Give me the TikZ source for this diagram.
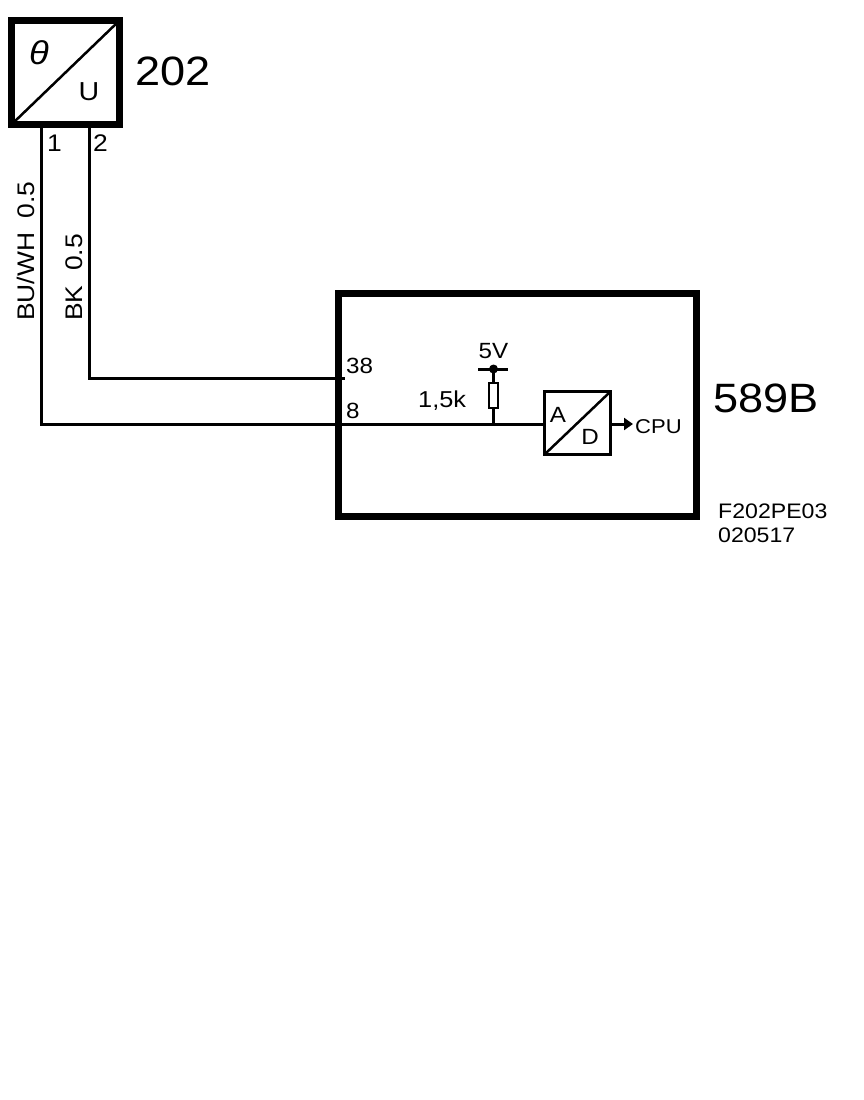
\documentclass[tikz,border=0pt]{standalone}
\usepackage{fontspec}
\setmainfont{Liberation Sans}[FakeStretch=1.1]
\usetikzlibrary{arrows.meta}
\begin{document}
\begin{tikzpicture}[x=1pt,y=-1pt,
  wire/.style={line width=3pt},
  thickbox/.style={draw,line width=7pt,minimum width=#1,inner sep=0pt,outer sep=0pt},
  lbl/.style={inner sep=0pt,font=\fontsize{#1}{#1}\selectfont},
]
\useasboundingbox (0,0) rectangle (864,1100);
% sensor 202
\node[thickbox=108pt,minimum height=104pt] (s202) at (65.5,72.5) {};
\draw[line width=2.5pt] (s202.south west) -- (s202.north east);
\node[lbl=33] (theta) at (39,53) {\itshape θ};
\node[lbl=26] (u) at (89,92) {U};
\node[lbl=41,anchor=base west] (n202) at (135,85) {202};
\node[lbl=24,anchor=base west] (pin1) at (47,151) {1};
\node[lbl=24,anchor=base west] (pin2) at (93,151) {2};
\node[lbl=24,anchor=base west,rotate=90] (c1) at (34,321) {BU/WH~ 0.5};
\node[lbl=24,anchor=base west,rotate=90] (c2) at (82,321) {BK~ 0.5};
% ECU 589B
\node[thickbox=358pt,minimum height=223pt] (ecu) at (517.5,405) {};
\node[lbl=41,anchor=base west] (n589) at (713,412) {589B};
\node[lbl=21,anchor=base west] (ref1) at (718,518) {F202PE03};
\node[lbl=21,anchor=base west] (ref2) at (718,542) {020517};
\node[lbl=22,anchor=base west] (p38) at (346,373) {38};
\node[lbl=22,anchor=base west] (p8) at (346,418) {8};
% A/D converter
\node[draw,line width=3pt,minimum width=66pt,minimum height=63pt,inner sep=0pt,outer sep=0pt] (ad) at (577.5,423) {};
\draw[line width=2.5pt] (ad.south west) -- (ad.north east);
\node[lbl=22,anchor=base] (la) at (558,422) {A};
\node[lbl=22,anchor=base] (ld) at (590,444) {D};
\coordinate (cpuend) at (633,424);
\draw[line width=3pt,-{Triangle[length=9pt,width=12pt]}] (ad.east |- cpuend) -- (cpuend);
\node[lbl=20,anchor=base west] (cpu) at (635,433) {CPU};
% pull-up resistor
\node[draw,line width=2.5pt,minimum width=9pt,minimum height=25pt,inner sep=0pt,outer sep=0pt] (res) at (493.5,395.5) {};
\coordinate (vdd) at (493.5,369);
\coordinate (junc) at (493.5,424);
\draw[line width=3pt] (478,369) -- (508,369);
\fill (vdd) circle (4.5pt);
\draw[line width=2.5pt] (vdd) -- (res.north);
\draw[line width=2.5pt] (res.south) -- (junc);
\node[lbl=22,anchor=base] (v5) at (493.5,358) {5V};
\node[lbl=23,anchor=base west] (r15) at (418,407) {1,5k};
% wires
\coordinate (w1) at (41,124);
\coordinate (w2) at (89,124);
\coordinate (t38) at (345,378);
\draw[wire] (w1) |- (ad.west |- junc);
\draw[wire] (w2) |- (t38);
\end{tikzpicture}
\end{document}
